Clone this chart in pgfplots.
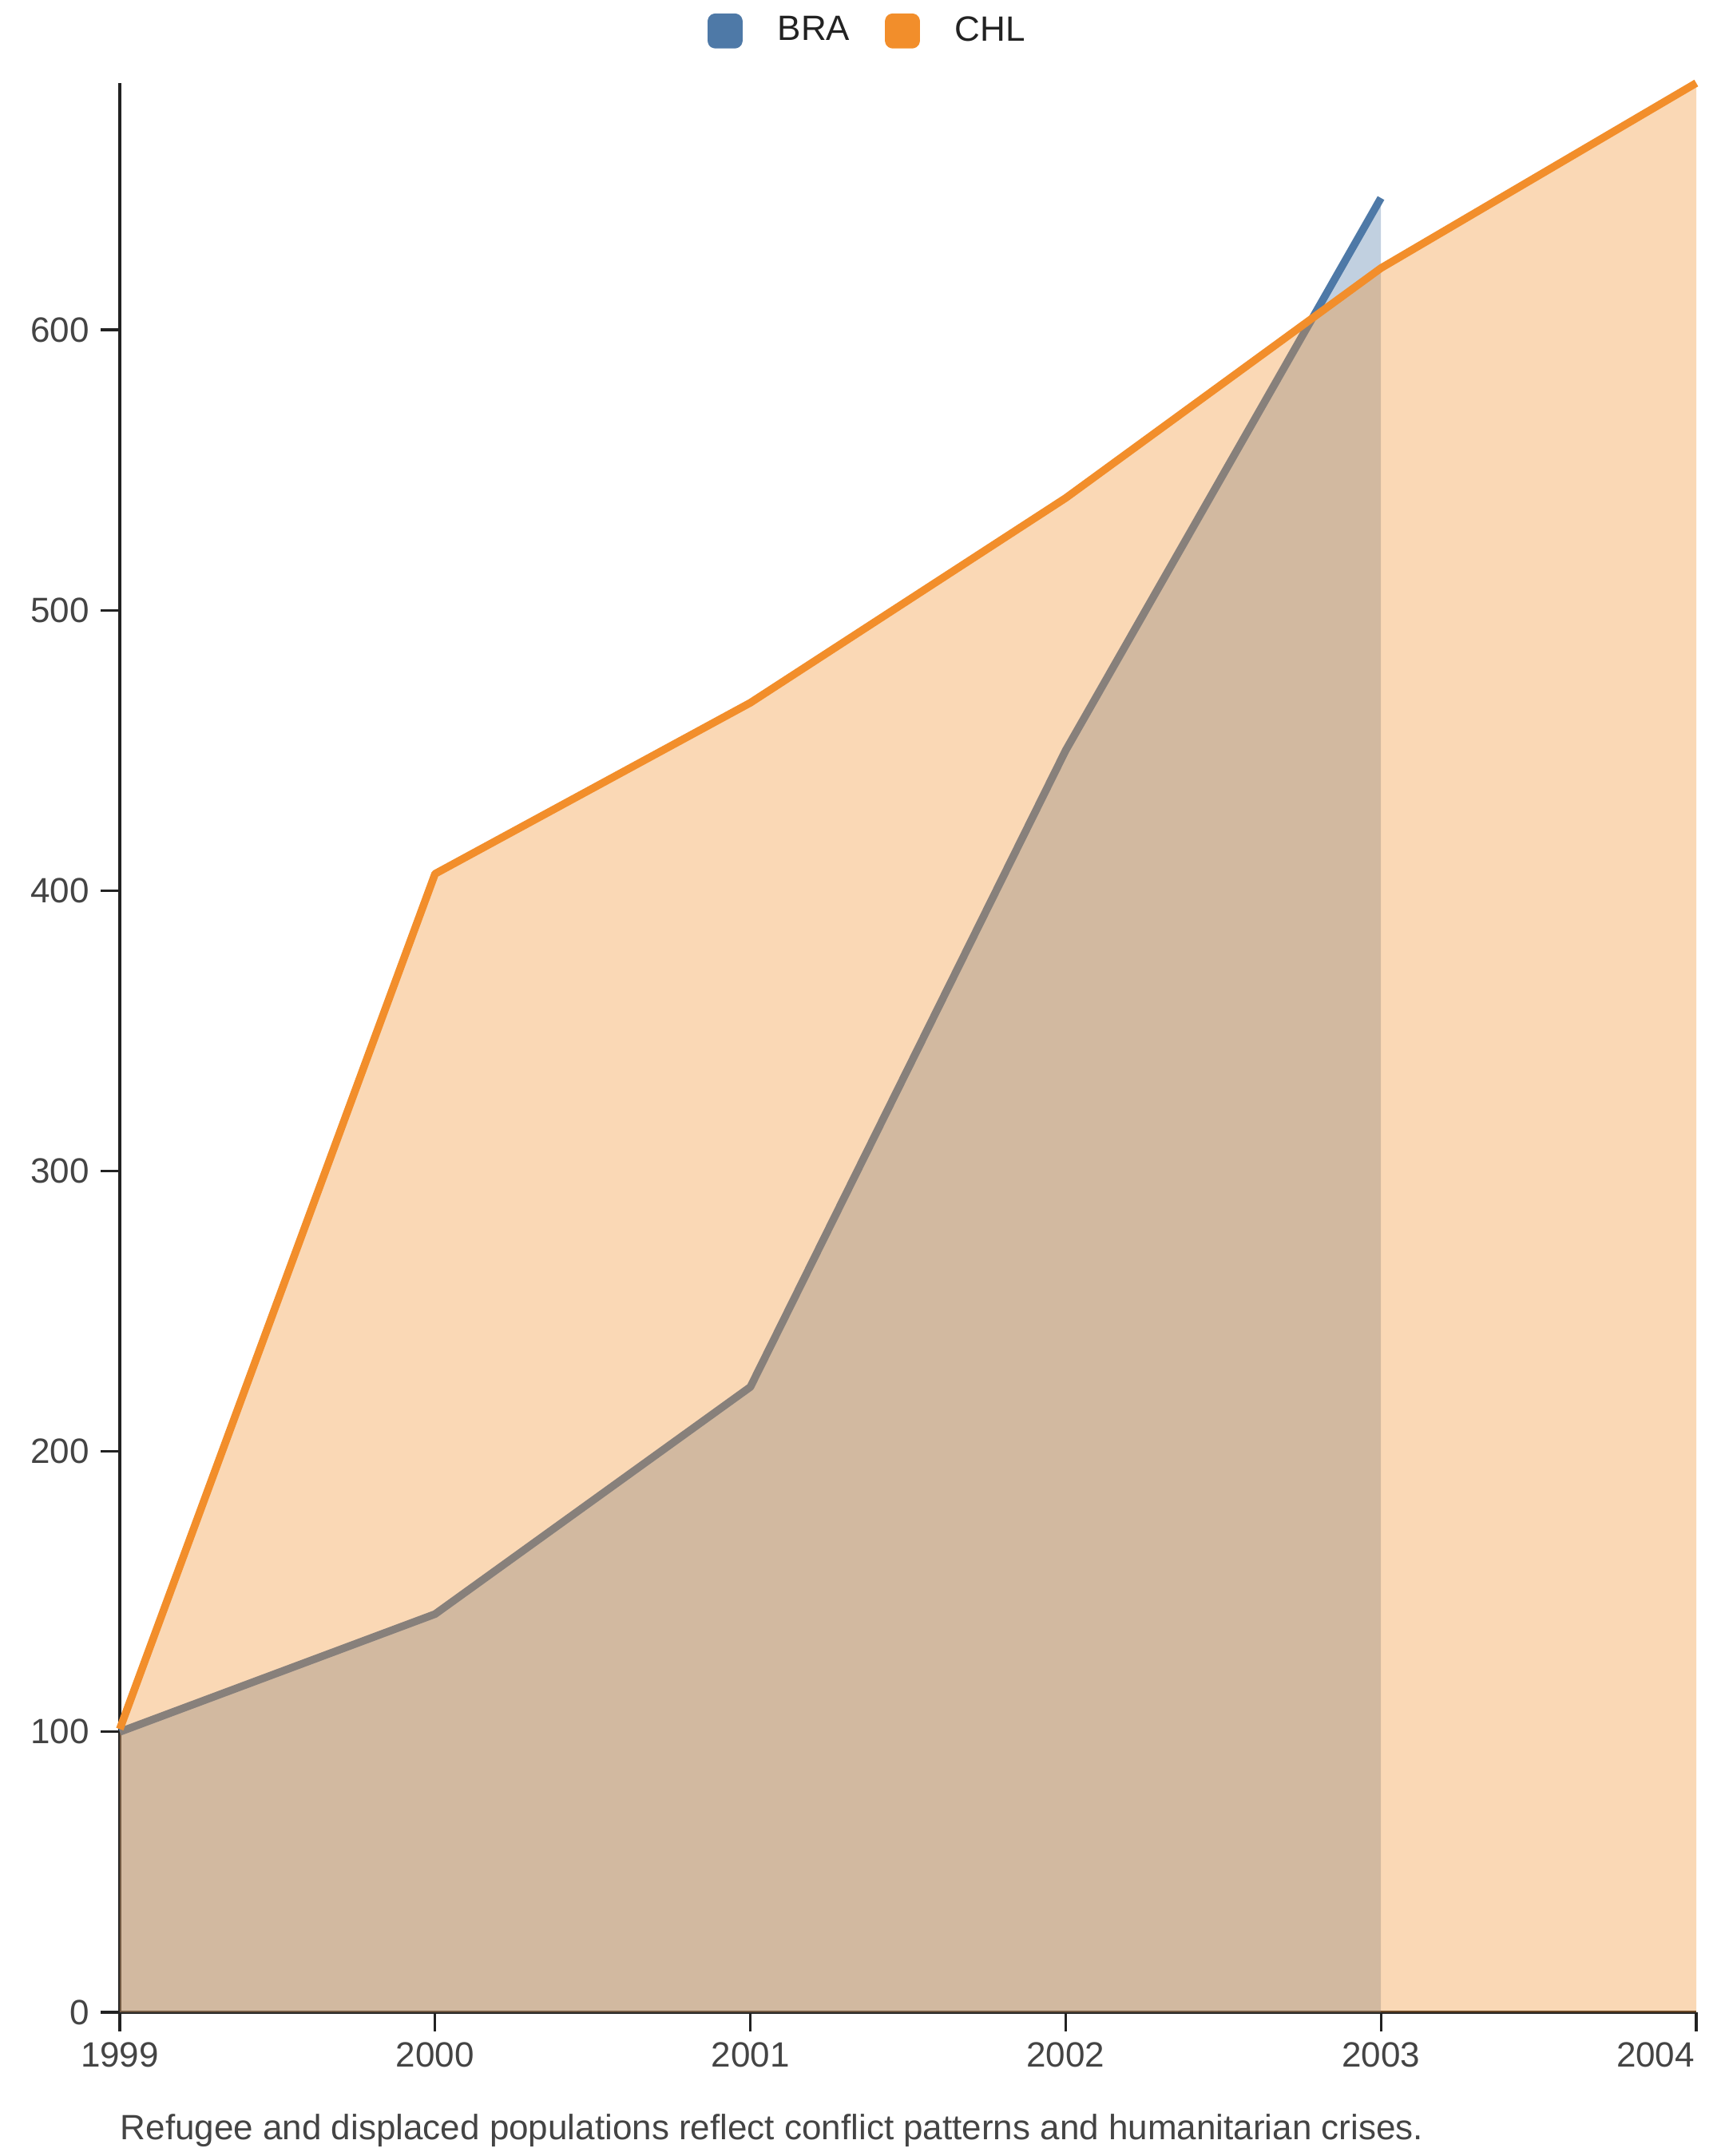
\documentclass[border=0pt]{standalone}
\usepackage{fontspec}
\setmainfont{Liberation Sans}
\usepackage{pgfplots}
\pgfplotsset{compat=1.18}
\definecolor{bra}{HTML}{4E79A7}
\definecolor{chl}{HTML}{F28E2B}
\definecolor{axc}{HTML}{222222}
\definecolor{tlab}{HTML}{444444}
\begin{document}
\begin{tikzpicture}
\path[use as bounding box] (-37.5pt,-45pt) rectangle (502.5pt,630pt);
\begin{axis}[
  at={(0pt,0pt)}, anchor=south west,
  scale only axis, width=493.5pt, height=604pt,
  xmin=1999, xmax=2004, ymin=0, ymax=688,
  clip=false,
  axis x line=bottom, axis y line=left,
  axis line style={-, axc, line width=0.9pt},
  tick align=outside, major tick length=6pt,
  tick style={axc, line width=0.8pt},
  xtick={1999,2000,2001,2002,2003},
  xticklabels={1999,2000,2001,2002,2003},
  extra x ticks={2004},
  extra x tick labels={2004},
  extra x tick style={xticklabel style={anchor=north east, xshift=3pt}},
  ytick={0,100,200,300,400,500,600},
  /pgf/number format/assume math mode=true,
  /pgf/number format/1000 sep={},
  ticklabel style={font=\fontsize{11}{13}\selectfont, text=tlab},
  legend style={at={(axis description cs:0.5,1.027)}, anchor=center, xshift=-12pt, draw=none, fill=none,
    font=\fontsize{11}{13}\selectfont, text=axc, legend columns=-1,
    /tikz/every odd column/.append style={column sep=9pt},
    /tikz/every even column/.append style={column sep=9pt}},
  legend image code/.code={\fill[#1, fill opacity=1, rounded corners=1pt] (0pt,-4.25pt) rectangle (8.5pt,4.25pt);},
]
\addplot[draw=none, fill=bra, fill opacity=0.35, forget plot] coordinates {
  (1999,100) (2000,142) (2001,223) (2002,450) (2003,647) } \closedcycle;
\addplot[color=bra, line width=2.4pt, line join=round] coordinates {
  (1999,100) (2000,142) (2001,223) (2002,450) (2003,647) };
\addlegendentry{BRA}
\addplot[draw=none, fill=chl, fill opacity=0.35, forget plot] coordinates {
  (1999,101) (2000,406) (2001,467) (2002,540) (2003,622) (2004,688) } \closedcycle;
\addplot[color=chl, line width=2.4pt, line join=round] coordinates {
  (1999,101) (2000,406) (2001,467) (2002,540) (2003,622) (2004,688) };
\addlegendentry{CHL}
\end{axis}
\node[anchor=west, font=\fontsize{11}{13}\selectfont, text=tlab, inner sep=0pt] at (0pt,-37pt)
  {Refugee and displaced populations reflect conflict patterns and humanitarian crises.};
\end{tikzpicture}
\end{document}
